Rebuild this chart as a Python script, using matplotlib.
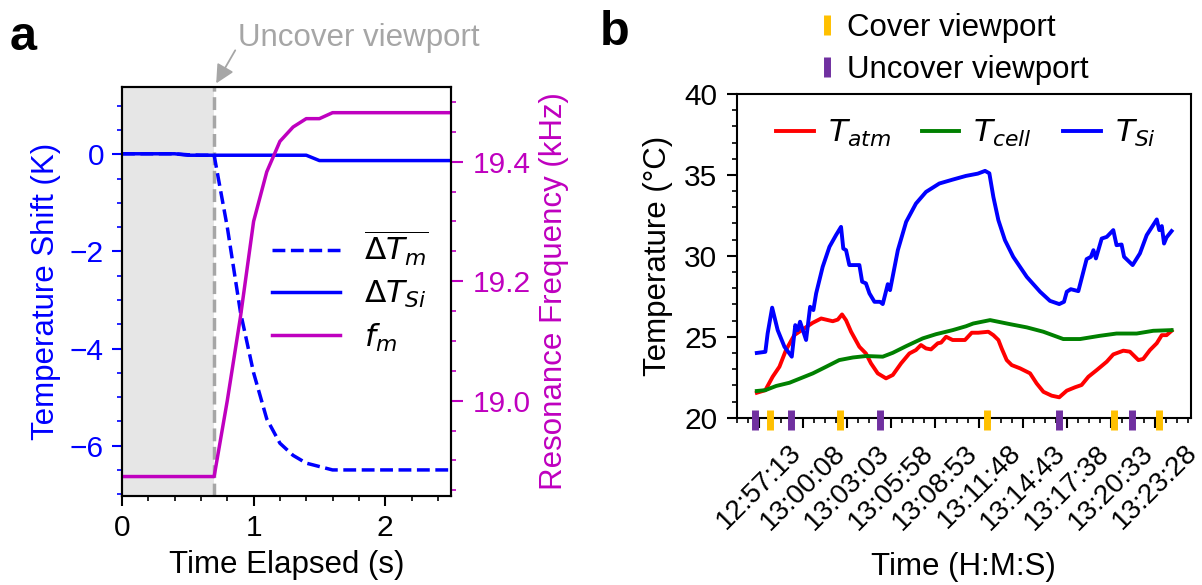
import matplotlib.pyplot as plt
from matplotlib.lines import Line2D
from matplotlib.ticker import MultipleLocator, FixedLocator, FuncFormatter

plt.rcParams['font.family'] = ['Liberation Sans', 'DejaVu Sans']
plt.rcParams['mathtext.fontset'] = 'dejavusans'
plt.rcParams['font.size'] = 22.5
plt.rcParams['axes.linewidth'] = 1.5

# ---- panel a : transient after uncovering the viewport ----
t_a = [0.0, 0.4, 0.5, 0.6, 0.7, 0.8, 0.9, 1.0, 1.1, 1.2, 1.3, 1.4, 1.5, 1.6, 2.5]
dT_m = [0.01, 0.01, -0.01, -0.02, -0.02, -1.5, -3.25, -4.5, -5.45, -5.95, -6.2, -6.36, -6.43, -6.5, -6.5]
dT_si = [0.01, 0.01, -0.02, -0.02, -0.02, -0.02, -0.02, -0.02, -0.02, -0.02, -0.02, -0.02, -0.13, -0.13, -0.13]
f_m = [18.873, 18.873, 18.873, 18.873, 18.873, 19.0, 19.14, 19.30, 19.383, 19.434, 19.458, 19.472, 19.472, 19.482, 19.482]
t_uncover = 0.7

# ---- panel b : temperatures vs clock time (seconds after 12:57:13) ----
t0 = 12 * 3600 + 57 * 60 + 13
si_dt = [-9, 25, 34, 52, 74, 101, 130, 144, 154, 163, 187, 203, 216, 227, 253, 280, 306, 326, 335, 346,
         359, 399, 410, 425, 439, 459, 481, 492, 512, 521, 552, 585, 624, 664, 717, 770, 823, 870, 899,
         916, 932, 952, 978, 1011, 1065, 1118, 1157, 1194, 1213, 1224, 1240, 1270, 1303, 1320, 1330,
         1340, 1363, 1383, 1409, 1422, 1442, 1452, 1486, 1515, 1542, 1582, 1592, 1602, 1611, 1621, 1641]
si_T = [24.0, 24.07, 25.2, 26.8, 25.41, 24.38, 23.77, 25.72, 25.41, 25.93, 24.8, 26.85, 26.65, 27.68,
        29.32, 30.56, 31.28, 31.79, 30.45, 30.35, 29.43, 29.43, 28.4, 28.3, 27.68, 27.16, 27.16, 27.02,
        28.25, 27.88, 30.35, 32.1, 33.23, 33.95, 34.47, 34.71, 34.94, 35.08, 35.25, 35.1, 33.64, 32.2,
        30.97, 29.94, 28.7, 27.78, 27.22, 27.02, 27.16, 27.78, 27.94, 27.82, 29.8, 29.94, 30.35, 29.84,
        31.07, 31.17, 31.59, 30.66, 30.7, 29.94, 29.43, 30.15, 31.28, 32.25, 31.59, 31.84, 30.76, 31.14,
        31.53]
atm_dt = [-9, 25, 54, 81, 107, 140, 180, 213, 247, 293, 313, 330, 346, 366, 399, 425, 445, 472, 505,
          532, 565, 598, 624, 644, 664, 684, 711, 724, 744, 770, 819, 846, 872, 912, 932, 952, 965, 985,
          1005, 1038, 1078, 1104, 1131, 1164, 1194, 1224, 1257, 1283, 1310, 1343, 1383, 1409, 1449,
          1475, 1509, 1528, 1555, 1582, 1602, 1621, 1641]
atm_T = [21.54, 21.7, 22.53, 23.15, 24.18, 25.1, 25.52, 25.86, 26.13, 25.96, 26.06, 26.38, 26.02,
         25.31, 24.38, 23.97, 23.36, 22.74, 22.43, 22.64, 23.36, 23.97, 24.18, 24.49, 24.28, 24.22,
         24.6, 24.64, 25.0, 24.8, 24.8, 25.25, 25.25, 25.31, 25.1, 24.8, 24.28, 23.56, 23.25, 23.05,
         22.74, 22.12, 21.6, 21.36, 21.26, 21.67, 21.88, 22.02, 22.53, 22.94, 23.46, 23.91, 24.14,
         24.08, 23.56, 23.63, 24.18, 24.6, 25.1, 25.1, 25.37]
cell_dt = [-9, 25, 68, 121, 174, 214, 267, 319, 373, 426, 492, 532, 585, 651, 704, 770, 823, 852,
           919, 998, 1065, 1131, 1210, 1277, 1356, 1422, 1502, 1568, 1641]
cell_T = [21.65, 21.7, 21.96, 22.16, 22.49, 22.74, 23.15, 23.56, 23.72, 23.81, 23.77, 24.01, 24.42,
          24.9, 25.16, 25.41, 25.65, 25.82, 26.03, 25.78, 25.58, 25.31, 24.86, 24.86, 25.06, 25.2,
          25.2, 25.37, 25.41]
cover_dt = [45, 323, 908, 1413, 1592]
uncover_dt = [-15, 125, 482, 1194, 1485]
tick_step = 175  # 2 min 55 s between labelled ticks
n_ticks = 10

c_cover = '#FFC000'
c_uncover = '#7030A0'
gray = '#a6a6a6'


def hms(v, pos=None):
    s = int(round(v))
    return f'{s // 3600}:{s % 3600 // 60:02d}:{s % 60:02d}'


fig = plt.figure(figsize=(12.02, 5.85), dpi=100)

# ===== a =====
ax1 = fig.add_axes([0.1015, 0.1527, 0.2737, 0.6986])
ax2 = ax1.twinx()
ax1.axvspan(0, t_uncover, color='#e6e6e6', lw=0, zorder=0)
ax1.axvline(t_uncover, color=gray, ls='--', lw=2.5, zorder=1)
l1, = ax1.plot(t_a, dT_m, 'b--', lw=2.5, label=r'$\overline{\Delta T_m}$')
l2, = ax1.plot(t_a, dT_si, 'b-', lw=2.5, label=r'$\Delta T_{Si}$')
l3, = ax2.plot(t_a, f_m, 'm-', lw=2.5, label=r'$f_m$')
ax1.set_xlim(0, 2.5)
ax1.set_ylim(-7.03, 1.385)
ax2.set_ylim(18.841, 19.525)
ax1.xaxis.set_major_locator(MultipleLocator(1))
ax1.xaxis.set_minor_locator(MultipleLocator(0.2))
ax1.yaxis.set_major_locator(MultipleLocator(2))
ax1.yaxis.set_minor_locator(MultipleLocator(0.5))
ax2.yaxis.set_major_locator(MultipleLocator(0.2))
ax2.yaxis.set_minor_locator(MultipleLocator(0.05))
ax2.yaxis.set_major_formatter(FuncFormatter(lambda v, p: f'{v:.1f}'))
for ax in (ax1, ax2):
    ax.tick_params(which='major', length=7, width=1.5, labelsize=21.5, pad=6)
    ax.tick_params(which='minor', length=3.5, width=1.2)
ax1.tick_params(axis='y', which='both', colors='b')
ax2.tick_params(axis='y', which='both', colors='m')
ax2.tick_params(axis='y', which='major', length=8.5, pad=7)
ax1.set_xlabel('Time Elapsed (s)', labelpad=6)
ax1.set_ylabel('Temperature Shift (K)', color='b', labelpad=6)
ax2.set_ylabel('Resonance Frequency (kHz)', color='m', labelpad=6)
ax2.legend(handles=[l1, l2, l3], loc='center left', bbox_to_anchor=(0.455, 0.5),
           frameon=False, handlelength=2.2, handletextpad=0.75, labelspacing=0.35,
           borderpad=0, borderaxespad=0)
ax1.annotate('Uncover viewport', xy=(t_uncover, 1.0), xycoords=('data', 'axes fraction'),
             xytext=(238, 585 - 38), textcoords='figure pixels', ha='left', va='center', color=gray,
             arrowprops=dict(arrowstyle='-|>', color=gray, lw=1.3, mutation_scale=28,
                             shrinkA=0, shrinkB=3, relpos=(0, 0.25)))

# ===== b =====
ax3 = fig.add_axes([0.6129, 0.286, 0.3777, 0.5533])
ax3.plot([t0 + d for d in atm_dt], atm_T, color='r', lw=2.8, label=r'$T_{atm}$')
ax3.plot([t0 + d for d in cell_dt], cell_T, color='g', lw=2.8, label=r'$T_{cell}$')
ax3.plot([t0 + d for d in si_dt], si_T, color='b', lw=2.8, label=r'$T_{Si}$')
ax3.plot([t0 + d for d in cover_dt], [19.85] * len(cover_dt), ls='none', marker='|', ms=15, mew=5,
         color=c_cover, clip_on=False, zorder=5)
ax3.plot([t0 + d for d in uncover_dt], [19.85] * len(uncover_dt), ls='none', marker='|', ms=15, mew=5,
         color=c_uncover, clip_on=False, zorder=5)
ax3.set_xlim(t0 - 89, t0 + 1717)
ax3.set_ylim(20, 40)
ax3.xaxis.set_major_locator(FixedLocator([t0 + tick_step * k for k in range(n_ticks)]))
ax3.xaxis.set_minor_locator(FixedLocator([t0 + tick_step / 4 * k for k in range(-2, 4 * n_ticks)]))
ax3.xaxis.set_major_formatter(FuncFormatter(hms))
ax3.yaxis.set_major_locator(MultipleLocator(5))
ax3.yaxis.set_minor_locator(MultipleLocator(1))
ax3.tick_params(which='major', length=7, width=1.5, labelsize=21.5, pad=7)
ax3.tick_params(which='minor', length=3.5, width=1.2)
ax3.tick_params(axis='x', which='major', pad=9, labelrotation=45, labelsize=20)
ax3.set_xlabel('Time (H:M:S)', labelpad=12)
ax3.set_ylabel('Temperature (°C)', labelpad=8)
ax3.legend(loc='center', bbox_to_anchor=(0.505, 0.879), ncol=3, frameon=False,
           handlelength=1.2, handletextpad=0.45, columnspacing=1.0, borderpad=0, borderaxespad=0)

ev_handles = [Line2D([], [], ls='none', marker='|', ms=15, mew=5, color=c_cover),
              Line2D([], [], ls='none', marker='|', ms=15, mew=5, color=c_uncover)]
fig.legend(ev_handles, ['Cover viewport', 'Uncover viewport'], loc='center left',
           bbox_to_anchor=(817.5 / 1202, 1 - 49 / 585), frameon=False, handlelength=0.6,
           handletextpad=0.33, labelspacing=0.4, borderpad=0, borderaxespad=0)

fig.text(10 / 1202, 1 - 50 / 585, 'a', fontsize=35, fontweight='bold', va='baseline')
fig.text(600 / 1202, 1 - 45 / 585, 'b', fontsize=35, fontweight='bold', va='baseline')

fig.savefig('out.png', dpi=100)
